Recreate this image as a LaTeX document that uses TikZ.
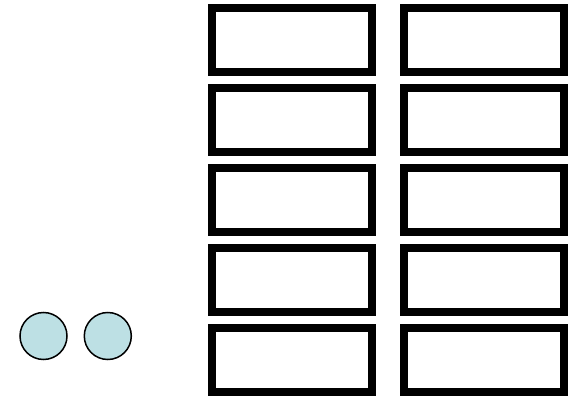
\documentclass[tikz,border=0pt]{standalone}
\definecolor{ballfill}{RGB}{189,224,228}
\begin{document}
\begin{tikzpicture}[x=1pt,y=-1pt,
  cell/.style={draw=black,line width=8pt,fill=white,minimum width=160pt,minimum height=64pt,inner sep=0pt,outer sep=0pt},
  ball/.style={circle,draw=black,line width=1.5pt,fill=ballfill,minimum size=47pt,inner sep=0pt}]
\useasboundingbox (0,0) rectangle (579,396);
\foreach \r [count=\i] in {40,120,200,280,360}{
  \node[cell] (a\i) at (292,\r) {};
  \node[cell] (b\i) at (484,\r) {};
}
\node[ball] (c1) at (43.5,336) {};
\node[ball] (c2) at (107.8,336) {};
\end{tikzpicture}
\end{document}
